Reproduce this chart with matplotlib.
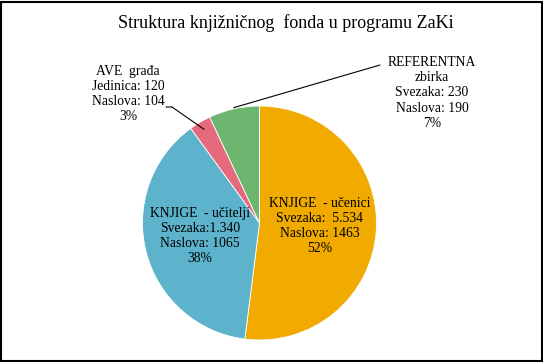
import numpy as np
import matplotlib
matplotlib.use('Agg')
import matplotlib.pyplot as plt

title = 'Struktura knjižničnog  fonda u programu ZaKi'
categories = ['KNJIGE  - učenici', 'KNJIGE  - učitelji', 'AVE  građa', 'REFERENTNA\nzbirka']
percent = [52, 38, 3, 7]
detail = ['Svezaka:  5.534\nNaslova: 1463',
          'Svezaka:1.340\nNaslova: 1065',
          'Jedinica: 120\nNaslova: 104',
          'Svezaka: 230\nNaslova: 190']
colors = ['#F0AA00', '#5DB3CB', '#E56B7C', '#6CB66F']

plt.rcParams['font.family'] = ['Liberation Serif', 'DejaVu Serif']

W, H = 543, 362
fig = plt.figure(figsize=(W / 100, H / 100), dpi=100)
fig.patch.set_facecolor('white')
fig.add_artist(plt.Rectangle((1 / W, 1 / H), 1 - 2.5 / W, 1 - 2.5 / H,
                             transform=fig.transFigure, fill=False,
                             edgecolor='black', linewidth=1.5))

# pie centre (259.5, 223) px, radius 117 px
cx, cy, r = 259.5, 223, 117
ax = fig.add_axes([(cx - r) / W, (H - cy - r) / H, 2 * r / W, 2 * r / H])
wedges, _ = ax.pie(percent, colors=colors, startangle=90, counterclock=False,
                   radius=1, wedgeprops=dict(edgecolor='white', linewidth=0.6))
ax.set_xlim(-1, 1)
ax.set_ylim(-1, 1)
ax.set_aspect('equal')
ax.axis('off')

def px(x, y):
    return ((x - cx) / r, (cy - y) / r)

labels = [c + '\n' + d + '\n' + str(p) + '%' for c, d, p in zip(categories, detail, percent)]
label_pos = [px(320, 226), px(200, 236), px(128, 94), px(432, 93)]
fs = 9.8
for i, (lab, pos) in enumerate(zip(labels, label_pos)):
    ax.text(pos[0], pos[1], lab, ha='center', va='center', fontsize=fs,
            linespacing=1.22, color='black')

# leader lines for the small slices
def mid_angle(w):
    return np.deg2rad((w.theta1 + w.theta2) / 2)

a = mid_angle(wedges[2])
tip = (0.93 * np.cos(a), 0.93 * np.sin(a))
elbow = px(172, 107)
ax.annotate('', xy=tip, xytext=elbow,
            arrowprops=dict(arrowstyle='-', color='black', lw=0.8, shrinkA=0, shrinkB=0))
ax.annotate('', xy=elbow, xytext=px(166, 107),
            arrowprops=dict(arrowstyle='-', color='black', lw=0.8, shrinkA=0, shrinkB=0))

a = mid_angle(wedges[3])
tip = (1.01 * np.cos(a), 1.01 * np.sin(a))
elbow = px(380, 65)
ax.annotate('', xy=tip, xytext=elbow,
            arrowprops=dict(arrowstyle='-', color='black', lw=0.8, shrinkA=0, shrinkB=0))
ax.annotate('', xy=elbow, xytext=px(386, 65),
            arrowprops=dict(arrowstyle='-', color='black', lw=0.8, shrinkA=0, shrinkB=0))

fig.text(285.5 / W, 1 - 23 / H, title, ha='center', va='center', fontsize=13)

fig.savefig('out.png', dpi=100)
